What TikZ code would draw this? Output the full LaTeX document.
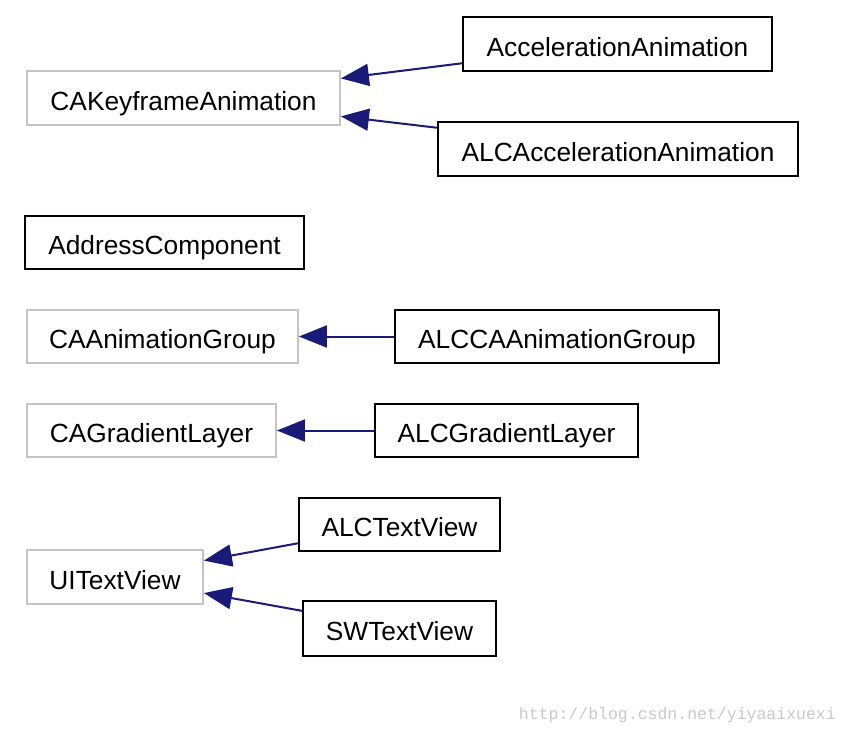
\documentclass[tikz,border=0pt]{standalone}
\usepackage{fontspec}
\setmainfont{Liberation Sans}
\newfontfamily\wmfont{Liberation Mono}
\usetikzlibrary{arrows.meta}
\definecolor{navy}{HTML}{1A1A78}
\definecolor{boxgray}{HTML}{C4C4C4}
\definecolor{wmgray}{HTML}{C8C8C8}
\tikzset{
  lbl/.style={inner sep=0pt, font=\fontsize{26.3}{30}\selectfont, fill=white, text height=24pt, text depth=0pt},
  cls/.style={lbl, draw=black, line width=2pt},
  base/.style={lbl, draw=boxgray, line width=1.8pt},
  arr/.style={draw=navy, line width=2pt, -{Triangle[length=28pt,width=22pt,fill=navy]}},
}
\begin{document}
\begin{tikzpicture}[x=1pt,y=-1pt]
\useasboundingbox (0,0) rectangle (850,734);
\node[base, minimum width=313pt, minimum height=54pt] (cak) at (183.5,98) {CAKeyframeAnimation};
\node[cls, minimum width=309pt, minimum height=54pt] (acc) at (617.5,44) {AccelerationAnimation};
\node[cls, minimum width=360pt, minimum height=54pt] (alcacc) at (618,149) {ALCAccelerationAnimation};
\node[cls, minimum width=279pt, minimum height=53pt] (addr) at (164.5,242.5) {AddressComponent};
\node[base, minimum width=271pt, minimum height=53pt] (cag) at (162.5,336.5) {CAAnimationGroup};
\node[cls, minimum width=324pt, minimum height=53pt] (alccag) at (557,336.5) {ALCCAAnimationGroup};
\node[base, minimum width=249pt, minimum height=53pt] (cgl) at (151.5,430.5) {CAGradientLayer};
\node[cls, minimum width=263pt, minimum height=53pt] (alcgl) at (506.5,430.5) {ALCGradientLayer};
\node[base, minimum width=176pt, minimum height=54pt] (uitv) at (115,577) {UITextView};
\node[cls, minimum width=201pt, minimum height=53pt] (alctv) at (399.5,524.5) {ALCTextView};
\node[cls, minimum width=193pt, minimum height=55pt] (swtv) at (399.5,628.5) {SWTextView};
\draw[arr] (acc) -- (cak);
\draw[arr] (alcacc) -- (cak);
\draw[arr] (alccag) -- (cag);
\draw[arr] (alcgl) -- (cgl);
\draw[arr] (alctv) -- (uitv);
\draw[arr] (swtv) -- (uitv);
\node[text=wmgray, font=\wmfont\fontsize{16.5}{18}\selectfont, anchor=east, inner sep=0pt] (wm) at (836,715) {http://blog.csdn.net/yiyaaixuexi};
\end{tikzpicture}
\end{document}
